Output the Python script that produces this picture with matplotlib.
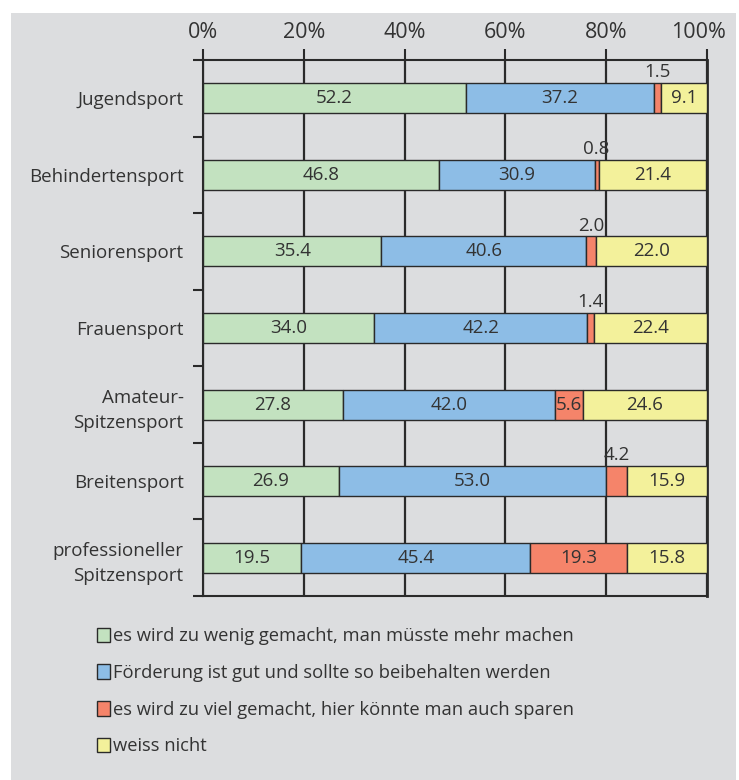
import matplotlib.pyplot as plt
import matplotlib.transforms as mtransforms
import numpy as np
from matplotlib.patches import Rectangle

plt.rcParams['font.family'] = ['Open Sans', 'DejaVu Sans']

categories = ['Jugendsport', 'Behindertensport', 'Seniorensport', 'Frauensport',
              'Amateur-\nSpitzensport', 'Breitensport', 'professioneller\nSpitzensport']
mehr = [52.2, 46.8, 35.4, 34.0, 27.8, 26.9, 19.5]
gut = [37.2, 30.9, 40.6, 42.2, 42.0, 53.0, 45.4]
sparen = [1.5, 0.8, 2.0, 1.4, 5.6, 4.2, 19.3]
weiss = [9.1, 21.4, 22.0, 22.4, 24.6, 15.9, 15.8]

series_names = ['es wird zu wenig gemacht, man müsste mehr machen',
                'Förderung ist gut und sollte so beibehalten werden',
                'es wird zu viel gemacht, hier könnte man auch sparen',
                'weiss nicht']
colors = ['#c3e2c0', '#8dbde6', '#f5846a', '#f3f19b']
bg = '#dcdddf'
txt = '#333333'
edge = '#2a2a2a'

fig = plt.figure(figsize=(7.39, 7.80), dpi=100)
fig.patches.append(Rectangle((11 / 739, 0), 725 / 739, 1 - 13 / 780,
                             transform=fig.transFigure, facecolor=bg,
                             edgecolor='none', zorder=-10))

ax = fig.add_axes([203 / 739, 1 - 596 / 780, 504 / 739, 536 / 780])
ax.set_facecolor('none')

y = np.arange(len(categories))
left = np.zeros(len(categories))
handles = []
for vals, col, name in zip([mehr, gut, sparen, weiss], colors, series_names):
    vals = np.array(vals)
    b = ax.barh(y, vals, left=left, height=0.39, color=col, edgecolor=edge,
                linewidth=1.0, zorder=3, label=name)
    handles.append(b)
    for yi, l, v in zip(y, left, vals):
        if v >= 5:
            ax.text(l + v / 2, yi, f'{v:.1f}', ha='center', va='center',
                    fontsize=13.5, color=txt, zorder=4)
        else:
            ax.text(l + v / 2, yi - 0.22, f'{v:.1f}', ha='center', va='bottom',
                    fontsize=13.5, color=txt, zorder=4)
    left = left + vals

ax.set_xlim(0, 100)
ax.set_ylim(len(categories) - 0.5, -0.5)
ax.xaxis.tick_top()
ax.set_xticks(np.arange(0, 101, 20))
ax.set_xticklabels([f'{t}%' for t in range(0, 101, 20)])
ax.tick_params(axis='x', direction='out', length=8, width=1.5, color=edge,
               labelsize=15.5, labelcolor=txt, pad=4)
# last label sits a little left of its tick, as in the original
lbl = ax.get_xticklabels()[-1]
lbl.set_transform(lbl.get_transform() +
                  mtransforms.ScaledTranslation(-9 / 100, 0, fig.dpi_scale_trans))

ax.set_yticks(y)
ax.set_yticklabels(categories, linespacing=1.5)
ax.set_yticks(np.arange(-0.5, len(categories), 1), minor=True)
ax.tick_params(axis='y', which='major', length=0, labelsize=13.5,
               labelcolor=txt, pad=14)
ax.tick_params(axis='y', which='minor', direction='out', length=7, width=1.5,
               color=edge)
ax.grid(axis='x', color=edge, linewidth=1.6, zorder=1)
for s in ax.spines.values():
    s.set_color(edge)
    s.set_linewidth(1.5)
ax.spines['right'].set_linewidth(2)

leg = fig.legend(handles=handles, loc='upper left',
                 bbox_to_anchor=(90 / 739, 1 - 620 / 780), frameon=False,
                 fontsize=13.2, labelcolor=txt, handlelength=0.7,
                 handleheight=0.85, handletextpad=0.15, labelspacing=1.02,
                 borderaxespad=0)

fig.savefig('out.png', dpi=100)
